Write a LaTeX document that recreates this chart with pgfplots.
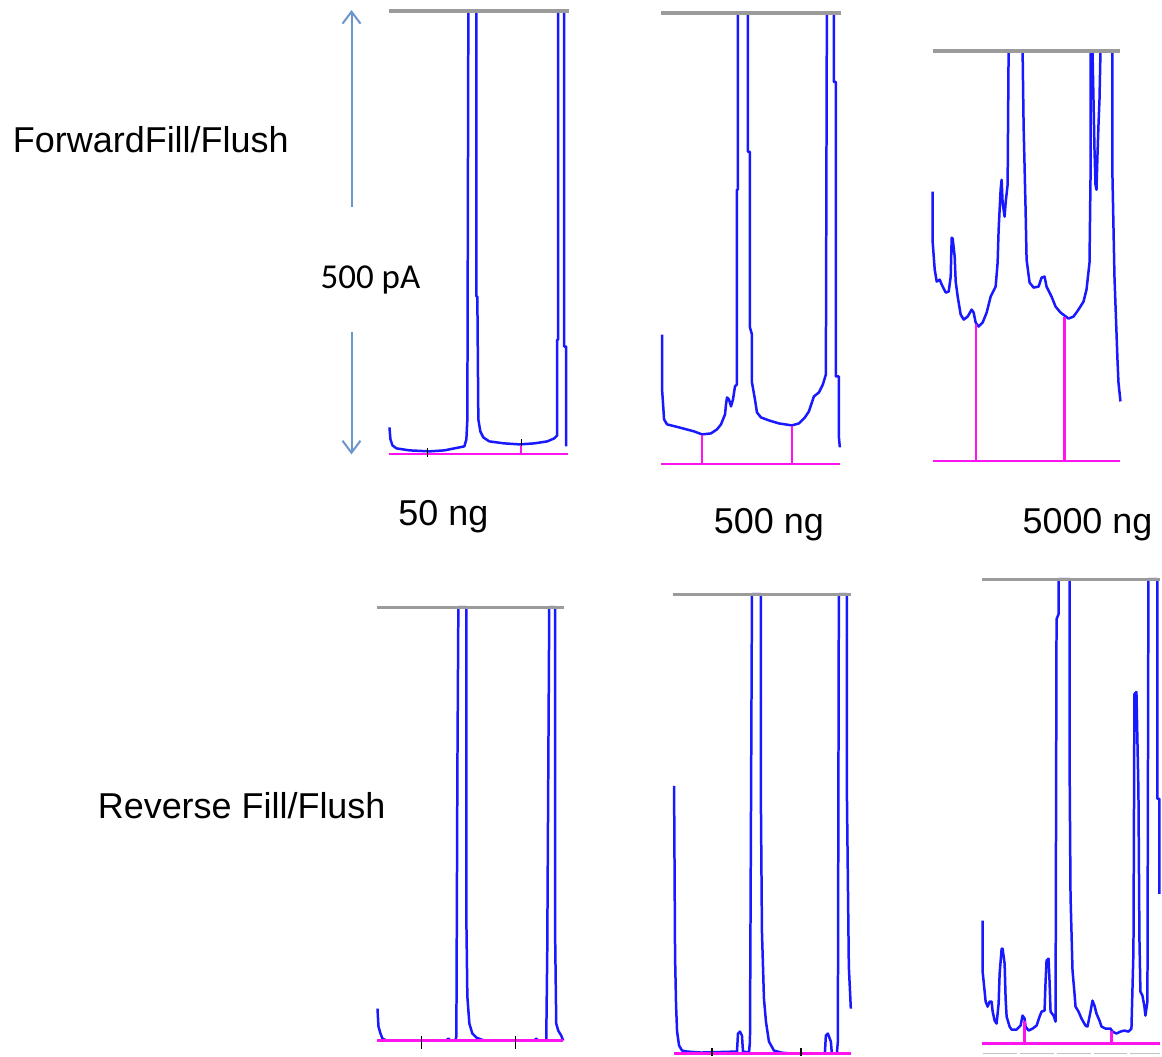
\documentclass[border=0pt]{standalone}
\usepackage{pgfplots}
\pgfplotsset{compat=1.18}
\usepackage{fontspec}
\setmainfont{Liberation Sans}
\newfontfamily\calib{Carlito}
\usetikzlibrary{arrows.meta}
\definecolor{trace}{RGB}{25,25,255}
\definecolor{mag}{RGB}{255,20,240}
\definecolor{gry}{RGB}{155,155,155}
\definecolor{arr}{RGB}{105,150,205}
\begin{document}
\begin{tikzpicture}
\begin{axis}[scale only axis, width=581pt, height=528.5pt,
  xmin=0, xmax=1162, ymin=0, ymax=1057, y dir=reverse,
  hide axis, clip=false,
  tr/.style={trace, line width=1.25pt, mark=none, line join=round},
  mg/.style={mag, line width=1.1pt, mark=none},
  gl/.style={gry, line width=1.6pt, mark=none},
  tk/.style={black, line width=0.7pt, mark=none}]
\path (rel axis cs:0,0) rectangle (rel axis cs:1,1);
% ---------- Panel 1: Forward 50 ng ----------
\addplot[tr] coordinates {(390,428)(391,440)(393,446)(397,449)(410,451)(430,452)(445,451)(455,449)(465,447)(467,440)(468,420)(469,11)(477,11)(477,297)(478,297)(479,420)(481,432)(484,438)(490,442)(505,444)(520,445)(535,444)(548,442)(555,439)(558,436)(558,340)(559,340)(559,11)(565,11)(565,347)(567,347)(567,400)(567,447)};
\addplot[mg] coordinates {(390,455)(569,455)};
\addplot[tk] coordinates {(428,449)(428,458)};
\addplot[tk] coordinates {(522,440)(522,448)};
\addplot[mg] coordinates {(522,447)(522,455)};
\addplot[gl] coordinates {(390,11)(570,11)};
% ---------- Panel 2: Forward 500 ng ----------
\addplot[tr] coordinates {(663,335)(663,390)(665,420)(668,425)(680,428)(695,432)(703,435)(712,434)(718,430)(722,425)(726,415)(727,405)(728,398)(730,400)(732,407)(734,400)(736,387)(738,385)(738,190)(739,190)(739,13)(749,13)(749,152)(751,152)(751,328)(753,335)(753,383)(756,400)(758,413)(762,418)(770,421)(780,424)(793,426)(800,424)(806,418)(810,412)(815,397)(820,393)(824,385)(827,375)(828,13)(835,13)(835,82)(837,82)(837,377)(840,377)(840,437)(841,448)};
\addplot[mg] coordinates {(662,465)(841,465)};
\addplot[mg] coordinates {(703,465)(703,436)};
\addplot[mg] coordinates {(793,465)(793,427)};
\addplot[gl] coordinates {(662,13)(842,13)};
% ---------- Panel 3: Forward 5000 ng ----------
\addplot[tr] coordinates {(934,192)(934,243)(936,270)(938,282)(941,280)(943,285)(947,293)(950,292)(952,277)(953,238)(954,239)(956,257)(957,282)(959,297)(962,315)(965,320)(969,317)(973,310)(975,313)(977,323)(980,327)(984,323)(988,313)(992,297)(997,287)(999,263)(1000,230)(1002,190)(1003,180)(1004,203)(1006,217)(1007,203)(1009,185)(1010,51)(1024,51)(1025,125)(1027,210)(1028,260)(1031,283)(1035,288)(1040,287)(1043,278)(1046,277)(1048,287)(1053,297)(1057,307)(1062,313)(1066,316)(1070,319)(1075,317)(1080,310)(1085,302)(1088,290)(1091,263)(1092,180)(1092,51)(1094,51)(1095,100)(1096,150)(1097,185)(1098,190)(1099,155)(1100,125)(1101,100)(1102,51)(1114,51)(1114,177)(1116,277)(1119,360)(1120,383)(1122,402)};
\addplot[mg] coordinates {(934,462)(1122,462)};
\addplot[mg] coordinates {(977,462)(977,324)};
\addplot[mg] coordinates {(1066,462)(1066,317)};
\addplot[gl] coordinates {(934,51)(1122,51)};
% ---------- Panel 4: Reverse 50 ng ----------
\addplot[tr] coordinates {(378,1010)(379,1028)(381,1035)(383,1040)(387,1042)(447,1042)(449,1040)(451,1042)(456,1042)(457,1038)(458,775)(459,608)(467,608)(467,920)(468,998)(470,1025)(473,1035)(477,1039)(482,1041)(485,1042)(535,1042)(537,1040)(539,1042)(547,1042)(548,953)(550,608)(556,608)(556,945)(557,1025)(559,1032)(562,1037)(564,1042)};
\addplot[mg] coordinates {(378,1042)(564,1042)};
\addplot[tk] coordinates {(422,1037)(422,1050)};
\addplot[tk] coordinates {(516,1037)(516,1050)};
\addplot[gl] coordinates {(378,608)(565,608)};
% ---------- Panel 5: Reverse 500 ng ----------
\addplot[tr] coordinates {(675,787)(676,958)(677,1007)(678,1033)(680,1047)(683,1052)(688,1053)(702,1054)(738,1053)(739,1035)(741,1033)(743,1037)(744,1053)(750,1054)(751,1043)(753,595)(762,595)(762,810)(763,933)(765,1000)(767,1023)(770,1043)(775,1052)(782,1054)(792,1055)(826,1055)(827,1037)(829,1035)(832,1043)(833,1055)(838,1055)(839,1043)(840,595)(848,595)(848,788)(850,968)(852,1010)};
\addplot[mg] coordinates {(675,1055)(852,1055)};
\addplot[tk] coordinates {(713,1049)(713,1057)};
\addplot[tk] coordinates {(802,1049)(802,1057)};
\addplot[gl] coordinates {(674,595)(852,595)};
% ---------- Panel 6: Reverse 5000 ng ----------
\addplot[tr] coordinates {(984,922)(984,973)(986,993)(987,1003)(989,1008)(991,1003)(993,1003)(994,1013)(996,1022)(998,1025)(1000,1005)(1001,975)(1003,950)(1004,950)(1006,965)(1007,1000)(1008,1018)(1011,1028)(1013,1031)(1018,1031)(1022,1027)(1024,1017)(1026,1020)(1027,1028)(1030,1032)(1034,1030)(1038,1027)(1041,1018)(1043,1013)(1046,1012)(1047,983)(1048,962)(1050,960)(1051,983)(1052,1013)(1055,1017)(1057,1023)(1058,620)(1060,615)(1060,580)(1071,580)(1071,757)(1072,897)(1074,972)(1076,995)(1077,1008)(1080,1013)(1083,1020)(1087,1027)(1089,1028)(1092,1013)(1094,1002)(1096,1007)(1098,1015)(1101,1022)(1103,1028)(1107,1030)(1112,1030)(1114,1033)(1118,1035)(1122,1033)(1126,1032)(1130,1033)(1133,1030)(1135,953)(1136,695)(1138,693)(1140,792)(1141,940)(1142,993)(1144,997)(1146,1008)(1147,1017)(1149,1003)(1150,580)(1159,580)(1159,800)(1161,800)(1161,895)};
\addplot[mg] coordinates {(983,1045)(1162,1045)};
\addplot[mg] coordinates {(1026,1045)(1026,1022)};
\addplot[mg] coordinates {(1113,1045)(1113,1032)};
\addplot[gry!60, line width=0.8pt, dash pattern=on 17pt off 1.5pt, mark=none] coordinates {(984,1055)(1162,1055)};
\addplot[gl] coordinates {(983,580)(1162,580)};
% ---------- Arrow ----------
\draw[arr, line width=1pt, -{Straight Barb[length=6pt,width=9pt]}] (axis cs:352,207) -- (axis cs:352,10);
\draw[arr, line width=1pt, -{Straight Barb[length=6pt,width=9pt]}] (axis cs:352,332) -- (axis cs:352,455);
% ---------- Texts ----------
\node[font=\fontsize{18}{20}\selectfont] at (axis cs:151,140) {ForwardFill/Flush};
\node[font=\fontsize{18}{20}\selectfont] at (axis cs:242,807) {Reverse Fill/Flush};
\node[font=\calib\fontsize{17.5}{20}\selectfont] at (axis cs:371,280) {500 pA};
\node[font=\fontsize{18}{20}\selectfont] at (axis cs:444,517) {50 ng};
\node[font=\fontsize{18}{20}\selectfont] at (axis cs:770,525) {500 ng};
\node[font=\fontsize{18}{20}\selectfont] at (axis cs:1089,525) {5000 ng};
\end{axis}
\end{tikzpicture}
\end{document}
